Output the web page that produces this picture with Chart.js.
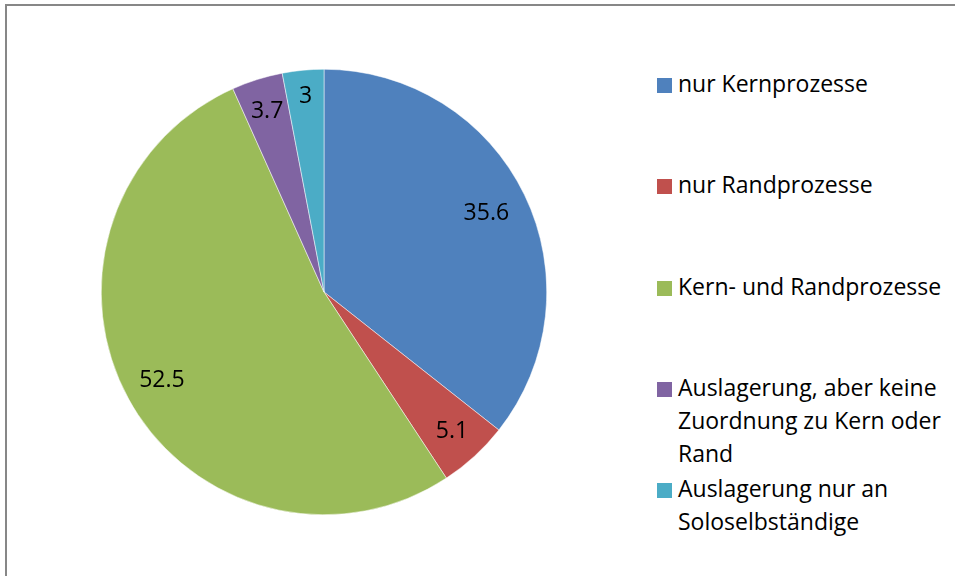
<!DOCTYPE html>
<html lang="de">
<head>
    <meta charset="UTF-8">
    <title>Auslagerung</title>
    <script src="https://cdn.jsdelivr.net/npm/chart.js"></script>
    <style>
        body {
            margin: 0;
            padding: 0;
            background: #fff;
            font-family: "Open Sans", Lato, sans-serif;
            width: 955px;
            height: 576px;
            overflow: hidden;
            position: relative;
        }
        .frame {
            position: absolute;
            left: 5px;
            top: 4px;
            width: 960px;
            height: 600px;
            border-left: 2px solid #878787;
            border-top: 2px solid #878787;
        }
        .pie {
            position: absolute;
            left: 101px;
            top: 69px;
            width: 446px;
            height: 446px;
        }
        .legend {
            position: absolute;
            left: 657px;
            top: 0;
            width: 295px;
        }
        .legend .item {
            position: absolute;
            left: 0;
            width: 295px;
        }
        .legend .box {
            position: absolute;
            left: 0;
            top: 11px;
            width: 15px;
            height: 15px;
        }
        .legend .txt {
            margin-left: 21px;
            font-size: 23px;
            line-height: 33px;
            color: #000;
        }
    </style>
</head>
<body>
<div class="frame"></div>
<div class="pie"><canvas id="pieChart"></canvas></div>
<div class="legend" id="legend"></div>
<script>
    const categories = [
        'nur Kernprozesse',
        'nur Randprozesse',
        'Kern- und Randprozesse',
        'Auslagerung, aber keine Zuordnung zu Kern oder Rand',
        'Auslagerung nur an Soloselbständige'
    ];
    const shares = [35.6, 5.1, 52.5, 3.7, 3];
    const sliceColors = ['#4F81BD', '#C0504D', '#9BBB59', '#8064A2', '#4BACC6'];
    // how far out (fraction of radius) each value label sits
    const labelRadius = [0.81, 0.85, 0.83, 0.85, 0.88];

    // legend, spaced evenly like the original
    const legendEl = document.getElementById('legend');
    categories.forEach((name, i) => {
        const item = document.createElement('div');
        item.className = 'item';
        item.style.top = (67 + i * 101.25) + 'px';
        item.innerHTML = '<span class="box" style="background:' + sliceColors[i] + '"></span>' +
            '<div class="txt">' + name + '</div>';
        legendEl.appendChild(item);
    });

    const valueLabels = {
        id: 'valueLabels',
        afterDatasetsDraw(chart) {
            const ctx = chart.ctx;
            const meta = chart.getDatasetMeta(0);
            ctx.save();
            ctx.font = '23px "Open Sans", Lato, sans-serif';
            ctx.fillStyle = '#000';
            ctx.textAlign = 'center';
            ctx.textBaseline = 'middle';
            meta.data.forEach((arc, i) => {
                const p = arc.getProps(['x', 'y', 'startAngle', 'endAngle', 'outerRadius'], true);
                const mid = (p.startAngle + p.endAngle) / 2;
                const r = p.outerRadius * labelRadius[i];
                ctx.fillText(String(shares[i]), p.x + Math.cos(mid) * r, p.y + Math.sin(mid) * r);
            });
            ctx.restore();
        }
    };

    new Chart(document.getElementById('pieChart'), {
        type: 'pie',
        data: {
            labels: categories,
            datasets: [{
                data: shares,
                backgroundColor: sliceColors,
                borderColor: '#ffffff',
                borderWidth: 0.5
            }]
        },
        options: {
            responsive: true,
            maintainAspectRatio: false,
            animation: false,
            layout: { padding: 0 },
            plugins: {
                legend: { display: false },
                tooltip: { enabled: false }
            }
        },
        plugins: [valueLabels]
    });
</script>
</body>
</html>
